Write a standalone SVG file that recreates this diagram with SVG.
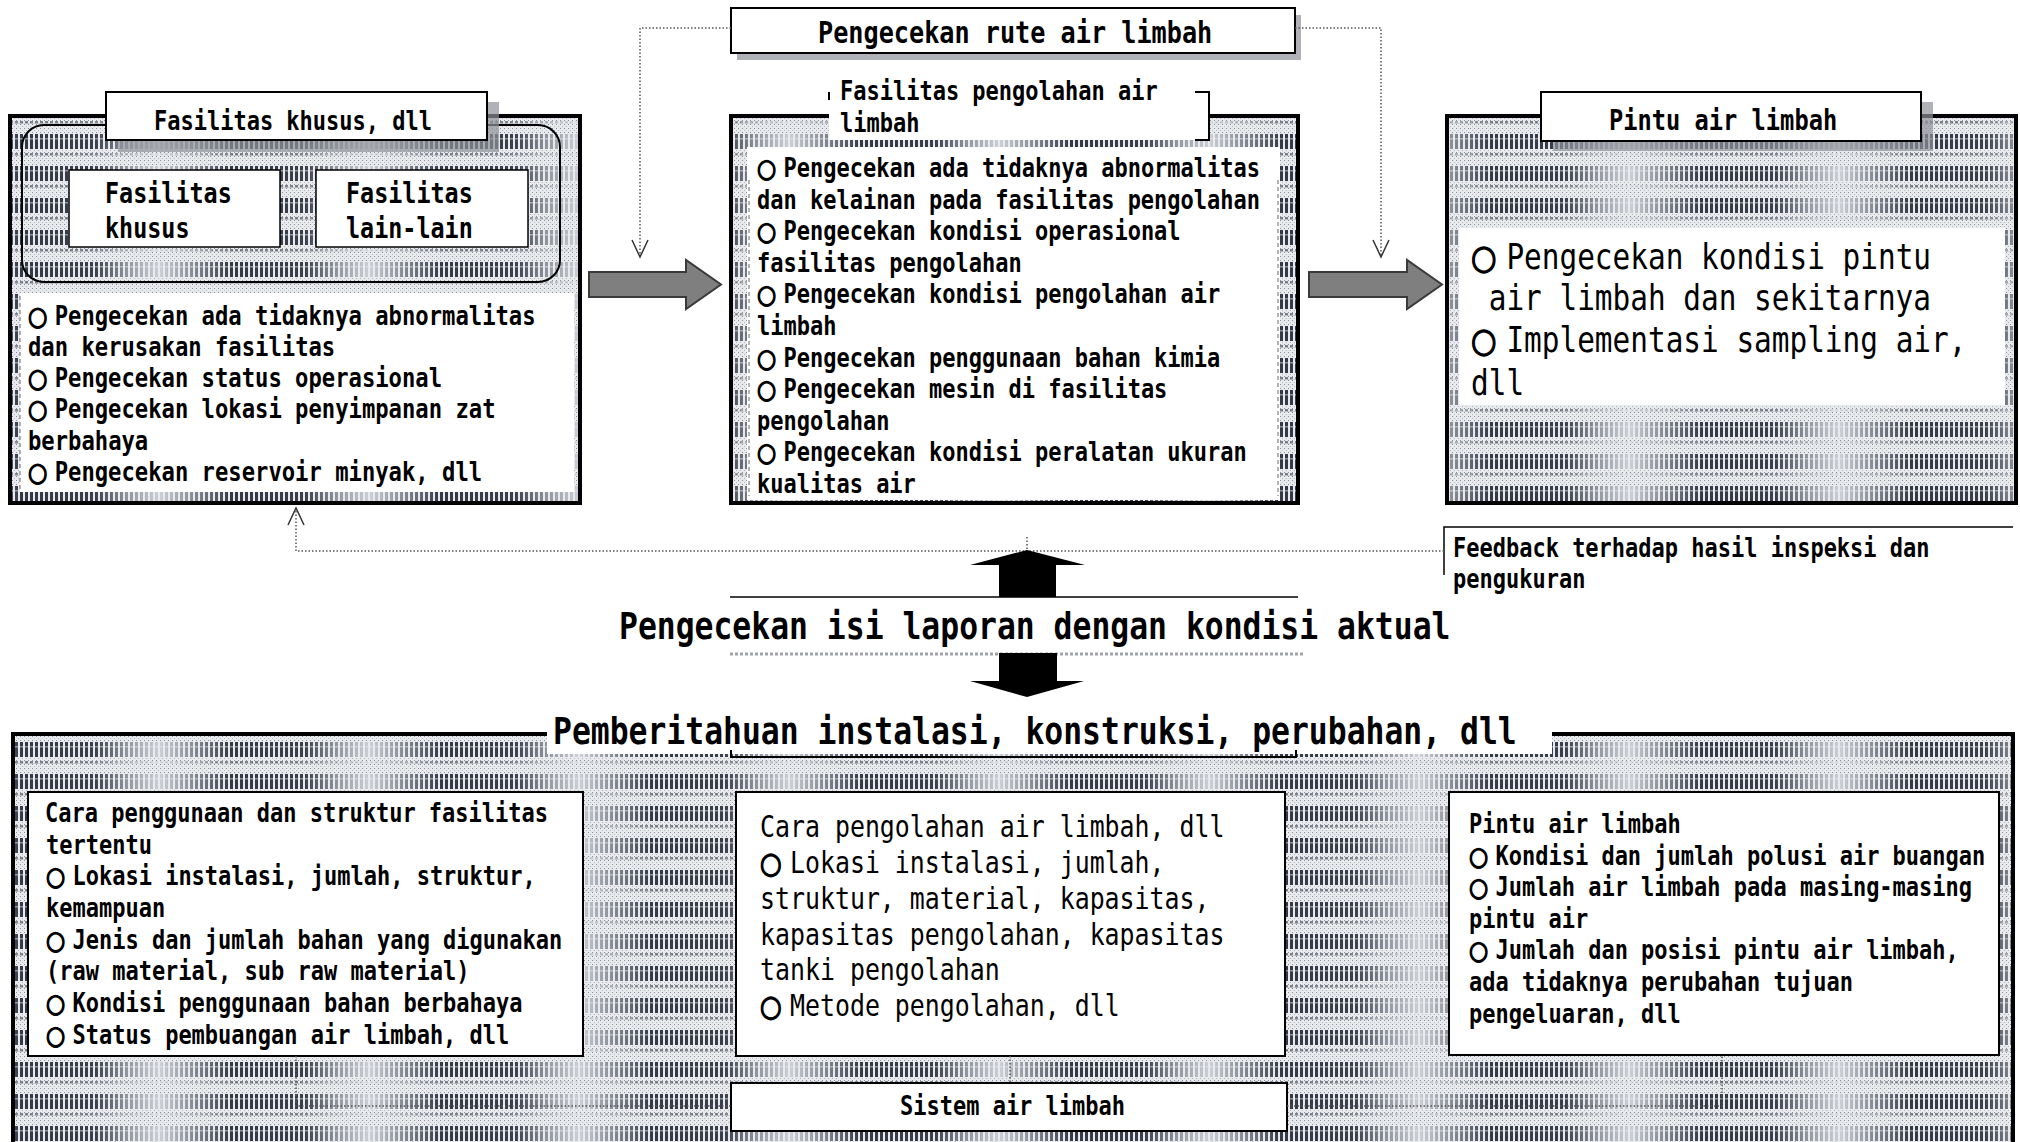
<svg xmlns="http://www.w3.org/2000/svg" width="2020" height="1142" viewBox="0 0 2020 1142">
<style>
text{font-family:"DejaVu Sans Mono","Liberation Mono",monospace;fill:#000;transform-box:fill-box;transform-origin:0 80%;transform:scaleY(1.18)}
.b{font-weight:bold}
.r{font-weight:normal}
.f22{font-size:22px}
.f222{font-size:22.2px}
.f234{font-size:23.4px}
.f237{font-size:23.7px}
.f252{font-size:25.2px}
.f249{font-size:24.9px}
.f294{font-size:29.4px}
.f314{font-size:31.4px}
.c{font-family:"DejaVu Sans",sans-serif;stroke:#000;stroke-width:1.2px}
.panel{fill:url(#tex);stroke:#000;stroke-width:4}
.wbox{fill:#fff;stroke:#000;stroke-width:2}
.white{fill:#fff}
.shadow{fill:#8e9299;opacity:.7}
.dot{fill:none;stroke:#555;stroke-width:1.5;stroke-dasharray:1.5 2}
.head{fill:none;stroke:#333;stroke-width:1.5}
.garrow{fill:#7f7f7f;stroke:#3a3a3a;stroke-width:2}
.dash{fill:none;stroke:#666;stroke-width:1;stroke-dasharray:4 3}
</style>
<defs>
<pattern id="dot" width="4" height="4" patternUnits="userSpaceOnUse">
<rect width="4" height="4" fill="#e8eaee"/>
<rect width="1" height="1" fill="#8a909a"/>
<rect x="2" y="2" width="1" height="1" fill="#b4b8c0"/>
</pattern>
<linearGradient id="gBand" x1="0" y1="0" x2="210" y2="0" gradientUnits="userSpaceOnUse">
<stop offset="0" stop-color="#646a75"/>
<stop offset="0.1" stop-color="#333945"/>
<stop offset="0.45" stop-color="#383e4a"/>
<stop offset="0.6" stop-color="#8e939c"/>
<stop offset="0.76" stop-color="#cdd0d6"/>
<stop offset="0.9" stop-color="#8e939c"/>
<stop offset="1" stop-color="#646a75"/>
</linearGradient>
<pattern id="gap" width="5" height="32" patternUnits="userSpaceOnUse">
<rect x="3" width="2" height="32" fill="#e8eaee"/>
</pattern>
<pattern id="tex" width="210" height="32" patternUnits="userSpaceOnUse">
<rect width="210" height="32" fill="url(#dot)"/>
<rect y="6" width="210" height="15" fill="url(#gBand)"/>
<rect y="6" width="210" height="15" fill="url(#gap)"/>
<rect y="10" width="210" height="1.5" fill="#e8eaee" opacity="0.5"/>
<rect y="25" width="210" height="2.5" fill="url(#gBand)" opacity="0.6"/>
<rect y="25" width="210" height="2.5" fill="url(#gap)"/>
</pattern>
</defs>

<!-- Top-left panel -->
<g id="panel-fasilitas-khusus">
<rect class="panel" x="10" y="116" width="570" height="387"/>
<rect x="22" y="125" width="538" height="157" rx="22" fill="none" stroke="#000" stroke-width="2"/>
<rect class="shadow" x="118" y="102" width="381" height="50"/>
<rect class="wbox" x="106" y="92" width="381" height="48"/>
<text class="b f22" x="154" y="130">Fasilitas khusus, dll</text>
<g id="sub-fasilitas-khusus">
<rect class="white" x="69" y="170" width="211" height="77" stroke="#000" stroke-width="1.5"/>
<text class="b f234" x="105" y="203">Fasilitas</text>
<text class="b f234" x="105" y="238">khusus</text>
</g>
<g id="sub-fasilitas-lain">
<rect class="white" x="316" y="170" width="212" height="77" stroke="#000" stroke-width="1.5"/>
<text class="b f234" x="346" y="203">Fasilitas</text>
<text class="b f234" x="346" y="238">lain-lain</text>
</g>
<rect class="white" x="20" y="293" width="554" height="199"/>
<path class="dash" d="M20,296 V490"/>
<g class="b f222">
<text x="28" y="325"><tspan class="c">○</tspan><tspan x="54.7">Pengecekan ada tidaknya abnormalitas</tspan></text>
<text x="28" y="356">dan kerusakan fasilitas</text>
<text x="28" y="387"><tspan class="c">○</tspan><tspan x="54.7">Pengecekan status operasional</tspan></text>
<text x="28" y="418"><tspan class="c">○</tspan><tspan x="54.7">Pengecekan lokasi penyimpanan zat</tspan></text>
<text x="28" y="450">berbahaya</text>
<text x="28" y="481"><tspan class="c">○</tspan><tspan x="54.7">Pengecekan reservoir minyak, dll</tspan></text>
</g>
</g>

<!-- Top route box -->
<g id="rute-air-limbah">
<rect class="shadow" x="737" y="15" width="564" height="45"/>
<rect class="wbox" x="731" y="8" width="564" height="45"/>
<text class="b f252" x="818" y="43">Pengecekan rute air limbah</text>
</g>

<!-- Top-middle panel -->
<g id="panel-pengolahan">
<rect class="panel" x="731" y="116" width="567" height="387"/>
<rect class="white" x="829" y="86" width="380" height="54"/>
<path d="M829,100 V92 M1195,92 H1209 V140 H1195" fill="none" stroke="#000" stroke-width="2"/>
<text class="b f22" x="840" y="100">Fasilitas pengolahan air</text>
<text class="b f22" x="840" y="132">limbah</text>
<rect class="white" x="747" y="147" width="533" height="353"/>
<path class="dash" d="M749,180 V496 M1278,180 V496"/>
<g class="b f22">
<text x="757" y="177"><tspan class="c">○</tspan><tspan x="783.5">Pengecekan ada tidaknya abnormalitas</tspan></text>
<text x="757" y="208.6">dan kelainan pada fasilitas pengolahan</text>
<text x="757" y="240.2"><tspan class="c">○</tspan><tspan x="783.5">Pengecekan kondisi operasional</tspan></text>
<text x="757" y="271.8">fasilitas pengolahan</text>
<text x="757" y="303.4"><tspan class="c">○</tspan><tspan x="783.5">Pengecekan kondisi pengolahan air</tspan></text>
<text x="757" y="335">limbah</text>
<text x="757" y="366.6"><tspan class="c">○</tspan><tspan x="783.5">Pengecekan penggunaan bahan kimia</tspan></text>
<text x="757" y="398.2"><tspan class="c">○</tspan><tspan x="783.5">Pengecekan mesin di fasilitas</tspan></text>
<text x="757" y="429.8">pengolahan</text>
<text x="757" y="461.4"><tspan class="c">○</tspan><tspan x="783.5">Pengecekan kondisi peralatan ukuran</tspan></text>
<text x="757" y="493">kualitas air</text>
</g>
</g>

<!-- Top-right panel -->
<g id="panel-pintu">
<rect class="panel" x="1447" y="116" width="569" height="387"/>
<rect class="shadow" x="1553" y="102" width="380" height="49"/>
<rect class="wbox" x="1541" y="92" width="380" height="49"/>
<text class="b f237" x="1609" y="130">Pintu air limbah</text>
<rect class="white" x="1459" y="228" width="546" height="177"/>
<g class="r f294">
<text x="1471" y="269"><tspan class="c">○</tspan><tspan x="1506.4">Pengecekan kondisi pintu</tspan></text>
<text x="1488.7" y="310">air limbah dan sekitarnya</text>
<text x="1471" y="352"><tspan class="c">○</tspan><tspan x="1506.4">Implementasi sampling air,</tspan></text>
<text x="1471" y="395">dll</text>
</g>
</g>

<!-- Feedback label -->
<g id="feedback">
<path d="M1444,575 V527 H2013" fill="none" stroke="#000" stroke-width="1.5"/>
<text class="b f22" x="1453" y="557">Feedback terhadap hasil inspeksi dan</text>
<text class="b f22" x="1453" y="588">pengukuran</text>
</g>

<!-- Central titles -->
<g id="pengecekan-isi">
<path d="M730,597 H1298" stroke="#000" stroke-width="1.5"/>
<path d="M730,654 H1305" stroke="#a0a3a8" stroke-width="3" stroke-dasharray="3 2"/>
<text class="b f314" x="619" y="639">Pengecekan isi laporan dengan kondisi aktual</text>
</g>

<!-- Bottom panel -->
<g id="panel-pemberitahuan">
<rect class="panel" x="13" y="734" width="2000" height="420"/>
<rect class="white" x="547" y="706" width="1005" height="48"/>
<path d="M731,750 V757 H1296 V750" fill="none" stroke="#000" stroke-width="2"/>
<text class="b f314" x="553" y="744">Pemberitahuan instalasi, konstruksi, perubahan, dll</text>
<g id="box-fasilitas-tertentu">
<rect class="wbox" x="28" y="792" width="555" height="264"/>
<g class="b f22">
<text x="45" y="822">Cara penggunaan dan struktur fasilitas</text>
<text x="46" y="853.7">tertentu</text>
<text x="46" y="885.4"><tspan class="c">○</tspan><tspan x="72.5">Lokasi instalasi, jumlah, struktur,</tspan></text>
<text x="46" y="917.1">kemampuan</text>
<text x="46" y="948.8"><tspan class="c">○</tspan><tspan x="72.5">Jenis dan jumlah bahan yang digunakan</tspan></text>
<text x="46" y="980.5">(raw material, sub raw material)</text>
<text x="46" y="1012.2"><tspan class="c">○</tspan><tspan x="72.5">Kondisi penggunaan bahan berbahaya</tspan></text>
<text x="46" y="1043.9"><tspan class="c">○</tspan><tspan x="72.5">Status pembuangan air limbah, dll</tspan></text>
</g>
</g>
<g id="box-cara-pengolahan">
<rect class="wbox" x="736" y="792" width="549" height="264"/>
<g class="r f249">
<text x="760" y="837">Cara pengolahan air limbah, dll</text>
<text x="760" y="873"><tspan class="c">○</tspan><tspan x="790">Lokasi instalasi, jumlah,</tspan></text>
<text x="760" y="909">struktur, material, kapasitas,</text>
<text x="760" y="945">kapasitas pengolahan, kapasitas</text>
<text x="760" y="980">tanki pengolahan</text>
<text x="760" y="1016"><tspan class="c">○</tspan><tspan x="790">Metode pengolahan, dll</tspan></text>
</g>
</g>
<g id="box-pintu-air">
<rect class="wbox" x="1449" y="792" width="550" height="263"/>
<g class="b f22">
<text x="1469" y="833">Pintu air limbah</text>
<text x="1469" y="864.6"><tspan class="c">○</tspan><tspan x="1495.5">Kondisi dan jumlah polusi air buangan</tspan></text>
<text x="1469" y="896.2"><tspan class="c">○</tspan><tspan x="1495.5">Jumlah air limbah pada masing-masing</tspan></text>
<text x="1469" y="927.8">pintu air</text>
<text x="1469" y="959.4"><tspan class="c">○</tspan><tspan x="1495.5">Jumlah dan posisi pintu air limbah,</tspan></text>
<text x="1469" y="991">ada tidaknya perubahan tujuan</text>
<text x="1469" y="1022.6">pengeluaran, dll</text>
</g>
</g>
<g id="box-sistem">
<rect class="wbox" x="731" y="1083" width="556" height="48" stroke-width="2.5"/>
<text class="b f22" x="900" y="1115">Sistem air limbah</text>
</g>
</g>

<!-- Connectors -->
<g id="connectors">
<path class="garrow" d="M589,272 H686 V260 L721,284.5 L686,309 V297 H589 Z"/>
<path class="garrow" d="M1309,272 H1407 V260 L1442,284.5 L1407,309 V297 H1309 Z"/>
<path class="dot" d="M731,28 H640 V256"/>
<path class="head" d="M632,240 L640,257 L648,240"/>
<path class="dot" d="M1295,28 H1381 V256"/>
<path class="head" d="M1373,240 L1381,257 L1389,240"/>
<path class="dot" d="M1444,551 H296 V509"/>
<path class="head" d="M288,525 L296,508 L304,525"/>
<path class="dot" d="M1027,537 V551"/>
<path d="M1027,550 L1085,565 H1056 V597 H999 V565 H970 Z" fill="#000"/>
<path d="M999,653 H1057 V681 H1084 L1027,697 L970,681 H999 Z" fill="#000"/>
<path class="dot" d="M296,1056 V1106 H731"/>
<path class="dot" d="M1287,1106 H1722 V1056"/>
<path class="dot" d="M1010,1056 V1083"/>
</g>
</svg>
